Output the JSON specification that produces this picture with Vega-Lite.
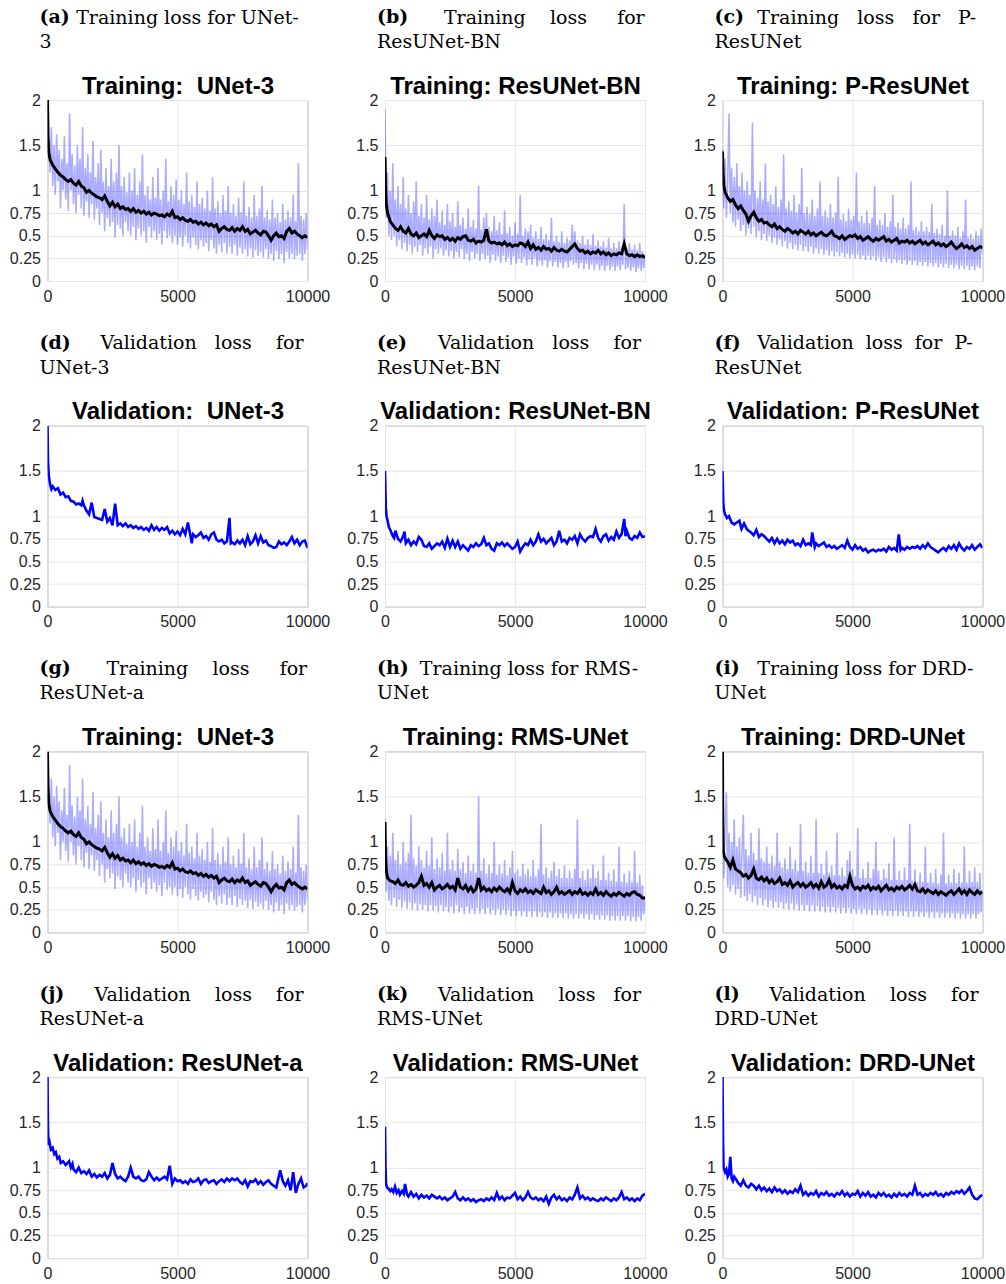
{
  "$schema": "https://vega.github.io/schema/vega-lite/v6.json",
  "padding": {"left": 8.5, "top": 7, "right": 0, "bottom": 0},
  "bounds": "flush",
  "columns": 3,
  "spacing": {"row": 144.7, "column": 77.5},
  "config": {
    "font": "Liberation Sans",
    "view": {"stroke": "#a6a6a6", "strokeWidth": 1},
    "axis": {"domain": false, "ticks": false, "grid": true, "gridColor": "#e6e6e6", "gridWidth": 1, "labelFont": "Liberation Sans", "labelFontSize": 16, "labelColor": "#262626", "labelPadding": 7, "labelOverlap": false},
    "axisX": {"titleY": -258, "titleAngle": 0, "titleAlign": "left", "titleBaseline": "alphabetic", "titleFont": "DejaVu Serif", "titleFontSize": 19, "titleFontWeight": "normal", "titleColor": "#000000"},
    "axisY": {"titleX": 130, "titleY": -7, "titleAngle": 0, "titleAlign": "center", "titleBaseline": "alphabetic", "titleFont": "Liberation Sans", "titleFontSize": 24, "titleFontWeight": "bold", "titleColor": "#000000"},
    "title": {"anchor": "start", "frame": "group", "dx": -8, "offset": -44, "font": "DejaVu Serif", "fontSize": 19, "fontWeight": "bold", "color": "#000000", "subtitleFont": "DejaVu Serif", "subtitleFontSize": 19, "subtitleFontWeight": "normal", "subtitleColor": "#000000", "subtitleLineHeight": 25, "subtitlePadding": 6}
  },
  "datasets": {
    "unet3_train_raw": [{"x":0,"y":2},{"x":50,"y":1.55},{"x":100,"y":1.2},{"x":150,"y":1.7},{"x":200,"y":1.05},{"x":250,"y":1.5},{"x":300,"y":0.95},{"x":350,"y":1.62},{"x":400,"y":1.1},{"x":450,"y":1.45},{"x":500,"y":0.8},{"x":550,"y":1.35},{"x":600,"y":1},{"x":650,"y":1.6},{"x":700,"y":0.9},{"x":750,"y":1.3},{"x":800,"y":0.78},{"x":850,"y":1.85},{"x":900,"y":1},{"x":950,"y":1.4},{"x":1000,"y":0.85},{"x":1050,"y":1.28},{"x":1100,"y":0.75},{"x":1150,"y":1.5},{"x":1200,"y":0.95},{"x":1250,"y":1.35},{"x":1300,"y":0.8},{"x":1350,"y":1.7},{"x":1400,"y":0.72},{"x":1450,"y":1.25},{"x":1500,"y":0.88},{"x":1550,"y":1.4},{"x":1600,"y":0.7},{"x":1650,"y":1.2},{"x":1700,"y":0.85},{"x":1750,"y":1.55},{"x":1800,"y":0.68},{"x":1850,"y":1.15},{"x":1900,"y":0.8},{"x":1950,"y":1.3},{"x":2000,"y":0.62},{"x":2050,"y":1.45},{"x":2100,"y":0.75},{"x":2150,"y":1.1},{"x":2200,"y":0.55},{"x":2250,"y":1.25},{"x":2300,"y":0.7},{"x":2350,"y":1.05},{"x":2400,"y":0.6},{"x":2450,"y":1.35},{"x":2500,"y":0.65},{"x":2550,"y":1.1},{"x":2600,"y":0.48},{"x":2650,"y":1.2},{"x":2700,"y":0.62},{"x":2750,"y":1.5},{"x":2800,"y":0.58},{"x":2850,"y":1.05},{"x":2900,"y":0.5},{"x":2950,"y":1.15},{"x":3000,"y":0.65},{"x":3050,"y":0.98},{"x":3100,"y":0.55},{"x":3150,"y":1.2},{"x":3200,"y":0.5},{"x":3250,"y":1},{"x":3300,"y":0.6},{"x":3350,"y":1.25},{"x":3400,"y":0.45},{"x":3450,"y":0.95},{"x":3500,"y":0.58},{"x":3550,"y":1.1},{"x":3600,"y":0.5},{"x":3650,"y":1.4},{"x":3700,"y":0.55},{"x":3750,"y":0.95},{"x":3800,"y":0.42},{"x":3850,"y":1.05},{"x":3900,"y":0.6},{"x":3950,"y":0.9},{"x":4000,"y":0.48},{"x":4050,"y":1.15},{"x":4100,"y":0.55},{"x":4150,"y":0.92},{"x":4200,"y":0.45},{"x":4250,"y":1.25},{"x":4300,"y":0.52},{"x":4350,"y":0.9},{"x":4400,"y":0.4},{"x":4450,"y":1},{"x":4500,"y":0.55},{"x":4550,"y":1.35},{"x":4600,"y":0.47},{"x":4650,"y":0.88},{"x":4700,"y":0.5},{"x":4750,"y":1.05},{"x":4800,"y":0.42},{"x":4850,"y":0.95},{"x":4900,"y":0.5},{"x":4950,"y":1.12},{"x":5000,"y":0.4},{"x":5050,"y":0.9},{"x":5100,"y":0.48},{"x":5150,"y":1},{"x":5200,"y":0.38},{"x":5250,"y":0.85},{"x":5300,"y":0.5},{"x":5350,"y":1.2},{"x":5400,"y":0.42},{"x":5450,"y":0.88},{"x":5500,"y":0.36},{"x":5550,"y":0.95},{"x":5600,"y":0.48},{"x":5650,"y":0.82},{"x":5700,"y":0.4},{"x":5750,"y":1.1},{"x":5800,"y":0.35},{"x":5850,"y":0.85},{"x":5900,"y":0.45},{"x":5950,"y":0.92},{"x":6000,"y":0.38},{"x":6050,"y":0.8},{"x":6100,"y":0.42},{"x":6150,"y":1},{"x":6200,"y":0.33},{"x":6250,"y":0.78},{"x":6300,"y":0.45},{"x":6350,"y":1.15},{"x":6400,"y":0.36},{"x":6450,"y":0.8},{"x":6500,"y":0.3},{"x":6550,"y":0.88},{"x":6600,"y":0.4},{"x":6650,"y":0.75},{"x":6700,"y":0.32},{"x":6750,"y":0.95},{"x":6800,"y":0.42},{"x":6850,"y":0.78},{"x":6900,"y":0.3},{"x":6950,"y":1.05},{"x":7000,"y":0.38},{"x":7050,"y":0.75},{"x":7100,"y":0.3},{"x":7150,"y":0.85},{"x":7200,"y":0.4},{"x":7250,"y":0.72},{"x":7300,"y":0.28},{"x":7350,"y":0.92},{"x":7400,"y":0.37},{"x":7450,"y":0.76},{"x":7500,"y":0.3},{"x":7550,"y":1.1},{"x":7600,"y":0.35},{"x":7650,"y":0.72},{"x":7700,"y":0.27},{"x":7750,"y":0.82},{"x":7800,"y":0.36},{"x":7850,"y":0.7},{"x":7900,"y":0.26},{"x":7950,"y":0.95},{"x":8000,"y":0.34},{"x":8050,"y":0.72},{"x":8100,"y":0.28},{"x":8150,"y":0.8},{"x":8200,"y":0.32},{"x":8250,"y":1.05},{"x":8300,"y":0.26},{"x":8350,"y":0.7},{"x":8400,"y":0.35},{"x":8450,"y":0.78},{"x":8500,"y":0.25},{"x":8550,"y":0.68},{"x":8600,"y":0.3},{"x":8650,"y":0.9},{"x":8700,"y":0.22},{"x":8750,"y":0.7},{"x":8800,"y":0.33},{"x":8850,"y":0.75},{"x":8900,"y":0.24},{"x":8950,"y":0.65},{"x":9000,"y":0.3},{"x":9050,"y":0.85},{"x":9100,"y":0.2},{"x":9150,"y":0.68},{"x":9200,"y":0.32},{"x":9250,"y":0.78},{"x":9300,"y":0.25},{"x":9350,"y":0.7},{"x":9400,"y":0.3},{"x":9450,"y":0.95},{"x":9500,"y":0.24},{"x":9550,"y":0.66},{"x":9600,"y":0.28},{"x":9650,"y":1.3},{"x":9700,"y":0.3},{"x":9750,"y":0.72},{"x":9800,"y":0.22},{"x":9850,"y":0.68},{"x":9900,"y":0.3},{"x":9950,"y":0.75},{"x":10000,"y":0.35}],
    "unet3_train_avg": [{"x":0,"y":2},{"x":20,"y":1.6},{"x":50,"y":1.42},{"x":100,"y":1.34},{"x":200,"y":1.28},{"x":300,"y":1.24},{"x":400,"y":1.2},{"x":500,"y":1.17},{"x":600,"y":1.15},{"x":700,"y":1.12},{"x":800,"y":1.1},{"x":900,"y":1.12},{"x":1000,"y":1.08},{"x":1100,"y":1.06},{"x":1200,"y":1.1},{"x":1300,"y":1.05},{"x":1400,"y":1.03},{"x":1500,"y":0.98},{"x":1600,"y":1},{"x":1700,"y":0.97},{"x":1800,"y":0.95},{"x":1900,"y":0.93},{"x":2000,"y":0.92},{"x":2100,"y":0.9},{"x":2200,"y":0.94},{"x":2300,"y":0.88},{"x":2400,"y":0.83},{"x":2500,"y":0.87},{"x":2600,"y":0.82},{"x":2700,"y":0.85},{"x":2800,"y":0.8},{"x":2900,"y":0.82},{"x":3000,"y":0.79},{"x":3100,"y":0.8},{"x":3200,"y":0.77},{"x":3300,"y":0.8},{"x":3400,"y":0.76},{"x":3500,"y":0.78},{"x":3600,"y":0.75},{"x":3700,"y":0.77},{"x":3800,"y":0.74},{"x":3900,"y":0.76},{"x":4000,"y":0.73},{"x":4100,"y":0.75},{"x":4200,"y":0.74},{"x":4300,"y":0.72},{"x":4400,"y":0.73},{"x":4500,"y":0.71},{"x":4600,"y":0.74},{"x":4700,"y":0.72},{"x":4800,"y":0.77},{"x":4900,"y":0.7},{"x":5000,"y":0.71},{"x":5100,"y":0.68},{"x":5200,"y":0.7},{"x":5300,"y":0.67},{"x":5400,"y":0.66},{"x":5500,"y":0.68},{"x":5600,"y":0.65},{"x":5700,"y":0.66},{"x":5800,"y":0.63},{"x":5900,"y":0.65},{"x":6000,"y":0.62},{"x":6100,"y":0.64},{"x":6200,"y":0.61},{"x":6300,"y":0.63},{"x":6400,"y":0.6},{"x":6500,"y":0.62},{"x":6600,"y":0.55},{"x":6700,"y":0.58},{"x":6800,"y":0.6},{"x":6900,"y":0.57},{"x":7000,"y":0.56},{"x":7100,"y":0.59},{"x":7200,"y":0.55},{"x":7300,"y":0.58},{"x":7400,"y":0.56},{"x":7500,"y":0.6},{"x":7600,"y":0.55},{"x":7700,"y":0.57},{"x":7800,"y":0.52},{"x":7900,"y":0.54},{"x":8000,"y":0.56},{"x":8100,"y":0.53},{"x":8200,"y":0.51},{"x":8300,"y":0.55},{"x":8400,"y":0.54},{"x":8500,"y":0.5},{"x":8600,"y":0.45},{"x":8700,"y":0.5},{"x":8800,"y":0.53},{"x":8900,"y":0.49},{"x":9000,"y":0.5},{"x":9100,"y":0.47},{"x":9200,"y":0.55},{"x":9300,"y":0.58},{"x":9400,"y":0.53},{"x":9500,"y":0.55},{"x":9600,"y":0.52},{"x":9700,"y":0.5},{"x":9800,"y":0.48},{"x":9900,"y":0.5},{"x":10000,"y":0.48}],
    "resunetbn_train_raw": [{"x":0,"y":1.9},{"x":50,"y":0.7},{"x":100,"y":1.2},{"x":150,"y":0.5},{"x":200,"y":1},{"x":250,"y":0.45},{"x":300,"y":1.3},{"x":350,"y":0.5},{"x":400,"y":0.9},{"x":450,"y":0.38},{"x":500,"y":1.05},{"x":550,"y":0.45},{"x":600,"y":0.85},{"x":650,"y":0.35},{"x":700,"y":1.15},{"x":750,"y":0.42},{"x":800,"y":0.8},{"x":850,"y":0.33},{"x":900,"y":0.95},{"x":950,"y":0.4},{"x":1000,"y":0.75},{"x":1050,"y":0.3},{"x":1100,"y":0.88},{"x":1150,"y":0.38},{"x":1200,"y":1.1},{"x":1250,"y":0.32},{"x":1300,"y":0.72},{"x":1350,"y":0.4},{"x":1400,"y":0.85},{"x":1450,"y":0.28},{"x":1500,"y":0.7},{"x":1550,"y":0.36},{"x":1600,"y":0.95},{"x":1650,"y":0.3},{"x":1700,"y":0.68},{"x":1750,"y":0.38},{"x":1800,"y":0.8},{"x":1850,"y":0.25},{"x":1900,"y":0.72},{"x":1950,"y":0.35},{"x":2000,"y":0.9},{"x":2050,"y":0.3},{"x":2100,"y":0.65},{"x":2150,"y":0.36},{"x":2200,"y":0.78},{"x":2250,"y":0.28},{"x":2300,"y":0.62},{"x":2350,"y":0.34},{"x":2400,"y":0.85},{"x":2450,"y":0.27},{"x":2500,"y":0.66},{"x":2550,"y":0.33},{"x":2600,"y":0.75},{"x":2650,"y":0.25},{"x":2700,"y":0.6},{"x":2750,"y":0.32},{"x":2800,"y":0.88},{"x":2850,"y":0.26},{"x":2900,"y":0.62},{"x":2950,"y":0.35},{"x":3000,"y":0.7},{"x":3050,"y":0.24},{"x":3100,"y":0.58},{"x":3150,"y":0.3},{"x":3200,"y":0.8},{"x":3250,"y":0.22},{"x":3300,"y":0.6},{"x":3350,"y":0.32},{"x":3400,"y":0.68},{"x":3450,"y":0.25},{"x":3500,"y":0.58},{"x":3550,"y":0.3},{"x":3600,"y":1.05},{"x":3650,"y":0.22},{"x":3700,"y":0.57},{"x":3750,"y":0.3},{"x":3800,"y":0.7},{"x":3850,"y":0.24},{"x":3900,"y":0.75},{"x":3950,"y":0.28},{"x":4000,"y":0.6},{"x":4050,"y":0.2},{"x":4100,"y":0.55},{"x":4150,"y":0.29},{"x":4200,"y":0.72},{"x":4250,"y":0.22},{"x":4300,"y":0.56},{"x":4350,"y":0.27},{"x":4400,"y":0.65},{"x":4450,"y":0.2},{"x":4500,"y":0.52},{"x":4550,"y":0.28},{"x":4600,"y":0.78},{"x":4650,"y":0.21},{"x":4700,"y":0.53},{"x":4750,"y":0.26},{"x":4800,"y":0.6},{"x":4850,"y":0.18},{"x":4900,"y":0.5},{"x":4950,"y":0.27},{"x":5000,"y":0.65},{"x":5050,"y":0.19},{"x":5100,"y":0.52},{"x":5150,"y":0.25},{"x":5200,"y":0.95},{"x":5250,"y":0.2},{"x":5300,"y":0.5},{"x":5350,"y":0.26},{"x":5400,"y":0.58},{"x":5450,"y":0.17},{"x":5500,"y":0.55},{"x":5550,"y":0.24},{"x":5600,"y":0.62},{"x":5650,"y":0.18},{"x":5700,"y":0.48},{"x":5750,"y":0.25},{"x":5800,"y":0.55},{"x":5850,"y":0.16},{"x":5900,"y":0.47},{"x":5950,"y":0.22},{"x":6000,"y":0.6},{"x":6050,"y":0.17},{"x":6100,"y":0.46},{"x":6150,"y":0.23},{"x":6200,"y":0.52},{"x":6250,"y":0.15},{"x":6300,"y":0.45},{"x":6350,"y":0.22},{"x":6400,"y":0.7},{"x":6450,"y":0.16},{"x":6500,"y":0.44},{"x":6550,"y":0.21},{"x":6600,"y":0.5},{"x":6650,"y":0.15},{"x":6700,"y":0.43},{"x":6750,"y":0.2},{"x":6800,"y":0.55},{"x":6850,"y":0.14},{"x":6900,"y":0.42},{"x":6950,"y":0.21},{"x":7000,"y":0.48},{"x":7050,"y":0.15},{"x":7100,"y":0.45},{"x":7150,"y":0.22},{"x":7200,"y":0.62},{"x":7250,"y":0.18},{"x":7300,"y":0.55},{"x":7350,"y":0.2},{"x":7400,"y":0.45},{"x":7450,"y":0.14},{"x":7500,"y":0.42},{"x":7550,"y":0.2},{"x":7600,"y":0.5},{"x":7650,"y":0.13},{"x":7700,"y":0.4},{"x":7750,"y":0.19},{"x":7800,"y":0.46},{"x":7850,"y":0.13},{"x":7900,"y":0.4},{"x":7950,"y":0.18},{"x":8000,"y":0.52},{"x":8050,"y":0.12},{"x":8100,"y":0.39},{"x":8150,"y":0.18},{"x":8200,"y":0.45},{"x":8250,"y":0.12},{"x":8300,"y":0.38},{"x":8350,"y":0.17},{"x":8400,"y":0.44},{"x":8450,"y":0.11},{"x":8500,"y":0.37},{"x":8550,"y":0.17},{"x":8600,"y":0.48},{"x":8650,"y":0.12},{"x":8700,"y":0.36},{"x":8750,"y":0.16},{"x":8800,"y":0.42},{"x":8850,"y":0.11},{"x":8900,"y":0.36},{"x":8950,"y":0.16},{"x":9000,"y":0.44},{"x":9050,"y":0.12},{"x":9100,"y":0.38},{"x":9150,"y":0.18},{"x":9200,"y":0.85},{"x":9250,"y":0.13},{"x":9300,"y":0.36},{"x":9350,"y":0.15},{"x":9400,"y":0.42},{"x":9450,"y":0.11},{"x":9500,"y":0.35},{"x":9550,"y":0.15},{"x":9600,"y":0.4},{"x":9650,"y":0.1},{"x":9700,"y":0.34},{"x":9750,"y":0.14},{"x":9800,"y":0.42},{"x":9850,"y":0.11},{"x":9900,"y":0.33},{"x":9950,"y":0.14},{"x":10000,"y":0.3}],
    "resunetbn_train_avg": [{"x":0,"y":1.37},{"x":20,"y":1.05},{"x":50,"y":0.85},{"x":100,"y":0.75},{"x":200,"y":0.66},{"x":300,"y":0.62},{"x":400,"y":0.58},{"x":500,"y":0.56},{"x":600,"y":0.6},{"x":700,"y":0.55},{"x":800,"y":0.53},{"x":900,"y":0.58},{"x":1000,"y":0.52},{"x":1100,"y":0.5},{"x":1200,"y":0.53},{"x":1300,"y":0.48},{"x":1400,"y":0.5},{"x":1500,"y":0.52},{"x":1600,"y":0.49},{"x":1700,"y":0.56},{"x":1800,"y":0.5},{"x":1900,"y":0.47},{"x":2000,"y":0.51},{"x":2100,"y":0.49},{"x":2200,"y":0.5},{"x":2300,"y":0.46},{"x":2400,"y":0.48},{"x":2500,"y":0.45},{"x":2600,"y":0.47},{"x":2700,"y":0.44},{"x":2800,"y":0.48},{"x":2900,"y":0.46},{"x":3000,"y":0.49},{"x":3100,"y":0.5},{"x":3200,"y":0.45},{"x":3300,"y":0.44},{"x":3400,"y":0.46},{"x":3500,"y":0.42},{"x":3600,"y":0.44},{"x":3700,"y":0.43},{"x":3800,"y":0.45},{"x":3900,"y":0.57},{"x":4000,"y":0.44},{"x":4100,"y":0.42},{"x":4200,"y":0.43},{"x":4300,"y":0.41},{"x":4400,"y":0.42},{"x":4500,"y":0.4},{"x":4600,"y":0.43},{"x":4700,"y":0.39},{"x":4800,"y":0.41},{"x":4900,"y":0.38},{"x":5000,"y":0.4},{"x":5100,"y":0.39},{"x":5200,"y":0.42},{"x":5300,"y":0.41},{"x":5400,"y":0.38},{"x":5500,"y":0.43},{"x":5600,"y":0.36},{"x":5700,"y":0.4},{"x":5800,"y":0.35},{"x":5900,"y":0.37},{"x":6000,"y":0.34},{"x":6100,"y":0.38},{"x":6200,"y":0.35},{"x":6300,"y":0.36},{"x":6400,"y":0.33},{"x":6500,"y":0.37},{"x":6600,"y":0.34},{"x":6700,"y":0.33},{"x":6800,"y":0.35},{"x":6900,"y":0.33},{"x":7000,"y":0.32},{"x":7100,"y":0.35},{"x":7200,"y":0.38},{"x":7300,"y":0.41},{"x":7400,"y":0.36},{"x":7500,"y":0.33},{"x":7600,"y":0.34},{"x":7700,"y":0.31},{"x":7800,"y":0.33},{"x":7900,"y":0.3},{"x":8000,"y":0.32},{"x":8100,"y":0.31},{"x":8200,"y":0.34},{"x":8300,"y":0.3},{"x":8400,"y":0.32},{"x":8500,"y":0.29},{"x":8600,"y":0.31},{"x":8700,"y":0.28},{"x":8800,"y":0.3},{"x":8900,"y":0.29},{"x":9000,"y":0.31},{"x":9100,"y":0.3},{"x":9200,"y":0.41},{"x":9300,"y":0.3},{"x":9400,"y":0.28},{"x":9500,"y":0.29},{"x":9600,"y":0.27},{"x":9700,"y":0.29},{"x":9800,"y":0.27},{"x":9900,"y":0.28},{"x":10000,"y":0.26}],
    "presunet_train_raw": [{"x":0,"y":1.45},{"x":50,"y":0.8},{"x":100,"y":1.35},{"x":150,"y":0.7},{"x":200,"y":1.1},{"x":250,"y":1.85},{"x":300,"y":0.75},{"x":350,"y":1.25},{"x":400,"y":0.65},{"x":450,"y":1.15},{"x":500,"y":0.6},{"x":550,"y":1.3},{"x":600,"y":0.68},{"x":650,"y":1.05},{"x":700,"y":0.55},{"x":750,"y":1.2},{"x":800,"y":0.62},{"x":850,"y":1},{"x":900,"y":0.5},{"x":950,"y":1.1},{"x":1000,"y":0.58},{"x":1050,"y":0.95},{"x":1100,"y":0.52},{"x":1150,"y":1.75},{"x":1200,"y":0.6},{"x":1250,"y":1},{"x":1300,"y":0.48},{"x":1350,"y":0.92},{"x":1400,"y":0.55},{"x":1450,"y":1.1},{"x":1500,"y":0.45},{"x":1550,"y":0.9},{"x":1600,"y":0.52},{"x":1650,"y":1.3},{"x":1700,"y":0.44},{"x":1750,"y":0.88},{"x":1800,"y":0.5},{"x":1850,"y":0.95},{"x":1900,"y":0.42},{"x":1950,"y":0.85},{"x":2000,"y":0.48},{"x":2050,"y":1.05},{"x":2100,"y":0.4},{"x":2150,"y":0.82},{"x":2200,"y":0.46},{"x":2250,"y":0.9},{"x":2300,"y":0.38},{"x":2350,"y":1.4},{"x":2400,"y":0.44},{"x":2450,"y":0.8},{"x":2500,"y":0.36},{"x":2550,"y":0.88},{"x":2600,"y":0.42},{"x":2650,"y":0.78},{"x":2700,"y":0.35},{"x":2750,"y":0.95},{"x":2800,"y":0.4},{"x":2850,"y":0.76},{"x":2900,"y":0.34},{"x":2950,"y":0.85},{"x":3000,"y":0.4},{"x":3050,"y":1.25},{"x":3100,"y":0.33},{"x":3150,"y":0.75},{"x":3200,"y":0.38},{"x":3250,"y":0.82},{"x":3300,"y":0.32},{"x":3350,"y":0.74},{"x":3400,"y":0.38},{"x":3450,"y":0.9},{"x":3500,"y":0.3},{"x":3550,"y":0.72},{"x":3600,"y":0.36},{"x":3650,"y":0.8},{"x":3700,"y":0.3},{"x":3750,"y":1.1},{"x":3800,"y":0.35},{"x":3850,"y":0.72},{"x":3900,"y":0.29},{"x":3950,"y":0.78},{"x":4000,"y":0.34},{"x":4050,"y":0.7},{"x":4100,"y":0.28},{"x":4150,"y":0.85},{"x":4200,"y":0.33},{"x":4250,"y":0.7},{"x":4300,"y":0.27},{"x":4350,"y":0.76},{"x":4400,"y":0.32},{"x":4450,"y":1.15},{"x":4500,"y":0.27},{"x":4550,"y":0.68},{"x":4600,"y":0.31},{"x":4650,"y":0.74},{"x":4700,"y":0.26},{"x":4750,"y":0.66},{"x":4800,"y":0.3},{"x":4850,"y":0.8},{"x":4900,"y":0.25},{"x":4950,"y":0.68},{"x":5000,"y":0.3},{"x":5050,"y":0.72},{"x":5100,"y":0.25},{"x":5150,"y":1.2},{"x":5200,"y":0.29},{"x":5250,"y":0.66},{"x":5300,"y":0.24},{"x":5350,"y":0.72},{"x":5400,"y":0.28},{"x":5450,"y":0.64},{"x":5500,"y":0.23},{"x":5550,"y":0.78},{"x":5600,"y":0.28},{"x":5650,"y":0.64},{"x":5700,"y":0.23},{"x":5750,"y":0.7},{"x":5800,"y":0.27},{"x":5850,"y":1.05},{"x":5900,"y":0.22},{"x":5950,"y":0.62},{"x":6000,"y":0.26},{"x":6050,"y":0.68},{"x":6100,"y":0.21},{"x":6150,"y":0.62},{"x":6200,"y":0.26},{"x":6250,"y":0.75},{"x":6300,"y":0.21},{"x":6350,"y":0.6},{"x":6400,"y":0.25},{"x":6450,"y":0.66},{"x":6500,"y":0.2},{"x":6550,"y":0.95},{"x":6600,"y":0.24},{"x":6650,"y":0.6},{"x":6700,"y":0.2},{"x":6750,"y":0.65},{"x":6800,"y":0.23},{"x":6850,"y":0.58},{"x":6900,"y":0.19},{"x":6950,"y":0.7},{"x":7000,"y":0.23},{"x":7050,"y":0.58},{"x":7100,"y":0.18},{"x":7150,"y":0.62},{"x":7200,"y":0.22},{"x":7250,"y":1.1},{"x":7300,"y":0.18},{"x":7350,"y":0.56},{"x":7400,"y":0.22},{"x":7450,"y":0.6},{"x":7500,"y":0.17},{"x":7550,"y":0.55},{"x":7600,"y":0.21},{"x":7650,"y":0.66},{"x":7700,"y":0.17},{"x":7750,"y":0.55},{"x":7800,"y":0.21},{"x":7850,"y":0.6},{"x":7900,"y":0.16},{"x":7950,"y":0.54},{"x":8000,"y":0.2},{"x":8050,"y":0.85},{"x":8100,"y":0.16},{"x":8150,"y":0.53},{"x":8200,"y":0.2},{"x":8250,"y":0.58},{"x":8300,"y":0.15},{"x":8350,"y":0.52},{"x":8400,"y":0.19},{"x":8450,"y":0.62},{"x":8500,"y":0.15},{"x":8550,"y":0.5},{"x":8600,"y":0.19},{"x":8650,"y":1},{"x":8700,"y":0.14},{"x":8750,"y":0.5},{"x":8800,"y":0.18},{"x":8850,"y":0.56},{"x":8900,"y":0.14},{"x":8950,"y":0.5},{"x":9000,"y":0.18},{"x":9050,"y":0.6},{"x":9100,"y":0.13},{"x":9150,"y":0.48},{"x":9200,"y":0.17},{"x":9250,"y":0.55},{"x":9300,"y":0.13},{"x":9350,"y":0.9},{"x":9400,"y":0.17},{"x":9450,"y":0.48},{"x":9500,"y":0.12},{"x":9550,"y":0.52},{"x":9600,"y":0.16},{"x":9650,"y":0.47},{"x":9700,"y":0.12},{"x":9750,"y":0.55},{"x":9800,"y":0.16},{"x":9850,"y":0.5},{"x":9900,"y":0.14},{"x":9950,"y":0.58},{"x":10000,"y":0.3}],
    "presunet_train_avg": [{"x":0,"y":1.43},{"x":20,"y":1.2},{"x":50,"y":1.05},{"x":100,"y":0.98},{"x":200,"y":0.92},{"x":300,"y":0.88},{"x":400,"y":0.9},{"x":500,"y":0.84},{"x":600,"y":0.8},{"x":700,"y":0.83},{"x":800,"y":0.78},{"x":900,"y":0.74},{"x":1000,"y":0.66},{"x":1100,"y":0.72},{"x":1200,"y":0.76},{"x":1300,"y":0.7},{"x":1400,"y":0.66},{"x":1500,"y":0.68},{"x":1600,"y":0.64},{"x":1700,"y":0.65},{"x":1800,"y":0.62},{"x":1900,"y":0.6},{"x":2000,"y":0.63},{"x":2100,"y":0.58},{"x":2200,"y":0.6},{"x":2300,"y":0.57},{"x":2400,"y":0.55},{"x":2500,"y":0.58},{"x":2600,"y":0.56},{"x":2700,"y":0.53},{"x":2800,"y":0.55},{"x":2900,"y":0.52},{"x":3000,"y":0.56},{"x":3100,"y":0.54},{"x":3200,"y":0.52},{"x":3300,"y":0.55},{"x":3400,"y":0.51},{"x":3500,"y":0.53},{"x":3600,"y":0.5},{"x":3700,"y":0.52},{"x":3800,"y":0.54},{"x":3900,"y":0.51},{"x":4000,"y":0.5},{"x":4100,"y":0.52},{"x":4200,"y":0.55},{"x":4300,"y":0.5},{"x":4400,"y":0.49},{"x":4500,"y":0.47},{"x":4600,"y":0.5},{"x":4700,"y":0.46},{"x":4800,"y":0.48},{"x":4900,"y":0.5},{"x":5000,"y":0.49},{"x":5100,"y":0.51},{"x":5200,"y":0.47},{"x":5300,"y":0.49},{"x":5400,"y":0.45},{"x":5500,"y":0.47},{"x":5600,"y":0.49},{"x":5700,"y":0.46},{"x":5800,"y":0.44},{"x":5900,"y":0.47},{"x":6000,"y":0.45},{"x":6100,"y":0.47},{"x":6200,"y":0.49},{"x":6300,"y":0.44},{"x":6400,"y":0.46},{"x":6500,"y":0.43},{"x":6600,"y":0.45},{"x":6700,"y":0.47},{"x":6800,"y":0.42},{"x":6900,"y":0.44},{"x":7000,"y":0.43},{"x":7100,"y":0.45},{"x":7200,"y":0.42},{"x":7300,"y":0.44},{"x":7400,"y":0.41},{"x":7500,"y":0.43},{"x":7600,"y":0.45},{"x":7700,"y":0.41},{"x":7800,"y":0.43},{"x":7900,"y":0.4},{"x":8000,"y":0.42},{"x":8100,"y":0.44},{"x":8200,"y":0.4},{"x":8300,"y":0.42},{"x":8400,"y":0.39},{"x":8500,"y":0.41},{"x":8600,"y":0.38},{"x":8700,"y":0.4},{"x":8800,"y":0.43},{"x":8900,"y":0.39},{"x":9000,"y":0.36},{"x":9100,"y":0.38},{"x":9200,"y":0.41},{"x":9300,"y":0.37},{"x":9400,"y":0.39},{"x":9500,"y":0.36},{"x":9600,"y":0.38},{"x":9700,"y":0.34},{"x":9800,"y":0.36},{"x":9900,"y":0.38},{"x":10000,"y":0.37}],
    "rmsunet_train_raw": [{"x":0,"y":1.25},{"x":50,"y":0.45},{"x":100,"y":0.95},{"x":150,"y":0.35},{"x":200,"y":0.85},{"x":250,"y":0.3},{"x":300,"y":1.1},{"x":350,"y":0.38},{"x":400,"y":0.8},{"x":450,"y":0.28},{"x":500,"y":0.9},{"x":550,"y":0.36},{"x":600,"y":0.75},{"x":650,"y":0.27},{"x":700,"y":1},{"x":750,"y":0.34},{"x":800,"y":0.78},{"x":850,"y":0.26},{"x":900,"y":0.88},{"x":950,"y":0.33},{"x":1000,"y":1.3},{"x":1050,"y":0.25},{"x":1100,"y":0.82},{"x":1150,"y":0.32},{"x":1200,"y":0.74},{"x":1250,"y":0.24},{"x":1300,"y":0.95},{"x":1350,"y":0.31},{"x":1400,"y":0.8},{"x":1450,"y":0.25},{"x":1500,"y":0.72},{"x":1550,"y":0.3},{"x":1600,"y":0.9},{"x":1650,"y":0.23},{"x":1700,"y":0.74},{"x":1750,"y":0.3},{"x":1800,"y":1.05},{"x":1850,"y":0.24},{"x":1900,"y":0.7},{"x":1950,"y":0.29},{"x":2000,"y":0.82},{"x":2050,"y":0.22},{"x":2100,"y":0.72},{"x":2150,"y":0.3},{"x":2200,"y":0.88},{"x":2250,"y":0.23},{"x":2300,"y":0.68},{"x":2350,"y":0.28},{"x":2400,"y":1.1},{"x":2450,"y":0.22},{"x":2500,"y":0.7},{"x":2550,"y":0.28},{"x":2600,"y":0.8},{"x":2650,"y":0.21},{"x":2700,"y":0.68},{"x":2750,"y":0.3},{"x":2800,"y":0.92},{"x":2850,"y":0.22},{"x":2900,"y":0.7},{"x":2950,"y":0.27},{"x":3000,"y":0.78},{"x":3050,"y":0.2},{"x":3100,"y":0.66},{"x":3150,"y":0.28},{"x":3200,"y":0.85},{"x":3250,"y":0.21},{"x":3300,"y":0.68},{"x":3350,"y":0.26},{"x":3400,"y":0.76},{"x":3450,"y":0.2},{"x":3500,"y":0.66},{"x":3550,"y":0.27},{"x":3600,"y":1.5},{"x":3650,"y":0.21},{"x":3700,"y":0.68},{"x":3750,"y":0.26},{"x":3800,"y":0.82},{"x":3850,"y":0.2},{"x":3900,"y":0.65},{"x":3950,"y":0.27},{"x":4000,"y":0.75},{"x":4050,"y":0.2},{"x":4100,"y":0.66},{"x":4150,"y":0.25},{"x":4200,"y":1},{"x":4250,"y":0.19},{"x":4300,"y":0.64},{"x":4350,"y":0.26},{"x":4400,"y":0.75},{"x":4450,"y":0.19},{"x":4500,"y":0.65},{"x":4550,"y":0.25},{"x":4600,"y":0.8},{"x":4650,"y":0.19},{"x":4700,"y":0.63},{"x":4750,"y":0.25},{"x":4800,"y":0.72},{"x":4850,"y":0.18},{"x":4900,"y":0.9},{"x":4950,"y":0.24},{"x":5000,"y":0.66},{"x":5050,"y":0.18},{"x":5100,"y":0.7},{"x":5150,"y":0.24},{"x":5200,"y":0.62},{"x":5250,"y":0.18},{"x":5300,"y":0.76},{"x":5350,"y":0.23},{"x":5400,"y":0.64},{"x":5450,"y":0.17},{"x":5500,"y":0.7},{"x":5550,"y":0.23},{"x":5600,"y":0.62},{"x":5650,"y":0.17},{"x":5700,"y":0.8},{"x":5750,"y":0.23},{"x":5800,"y":0.62},{"x":5850,"y":0.17},{"x":5900,"y":0.7},{"x":5950,"y":0.22},{"x":6000,"y":1.2},{"x":6050,"y":0.17},{"x":6100,"y":0.64},{"x":6150,"y":0.22},{"x":6200,"y":0.72},{"x":6250,"y":0.16},{"x":6300,"y":0.6},{"x":6350,"y":0.22},{"x":6400,"y":0.68},{"x":6450,"y":0.16},{"x":6500,"y":0.78},{"x":6550,"y":0.21},{"x":6600,"y":0.62},{"x":6650,"y":0.16},{"x":6700,"y":0.7},{"x":6750,"y":0.21},{"x":6800,"y":0.6},{"x":6850,"y":0.16},{"x":6900,"y":0.74},{"x":6950,"y":0.21},{"x":7000,"y":0.6},{"x":7050,"y":0.15},{"x":7100,"y":0.68},{"x":7150,"y":0.2},{"x":7200,"y":0.6},{"x":7250,"y":0.15},{"x":7300,"y":0.7},{"x":7350,"y":0.2},{"x":7400,"y":1.25},{"x":7450,"y":0.15},{"x":7500,"y":0.6},{"x":7550,"y":0.2},{"x":7600,"y":0.68},{"x":7650,"y":0.15},{"x":7700,"y":0.58},{"x":7750,"y":0.2},{"x":7800,"y":0.7},{"x":7850,"y":0.14},{"x":7900,"y":0.6},{"x":7950,"y":0.2},{"x":8000,"y":0.75},{"x":8050,"y":0.14},{"x":8100,"y":0.6},{"x":8150,"y":0.19},{"x":8200,"y":0.68},{"x":8250,"y":0.14},{"x":8300,"y":0.58},{"x":8350,"y":0.19},{"x":8400,"y":0.85},{"x":8450,"y":0.14},{"x":8500,"y":0.58},{"x":8550,"y":0.19},{"x":8600,"y":0.66},{"x":8650,"y":0.13},{"x":8700,"y":0.57},{"x":8750,"y":0.18},{"x":8800,"y":0.7},{"x":8850,"y":0.13},{"x":8900,"y":0.56},{"x":8950,"y":0.18},{"x":9000,"y":0.95},{"x":9050,"y":0.13},{"x":9100,"y":0.56},{"x":9150,"y":0.18},{"x":9200,"y":0.65},{"x":9250,"y":0.13},{"x":9300,"y":0.55},{"x":9350,"y":0.18},{"x":9400,"y":0.68},{"x":9450,"y":0.12},{"x":9500,"y":0.56},{"x":9550,"y":0.17},{"x":9600,"y":0.9},{"x":9650,"y":0.12},{"x":9700,"y":0.55},{"x":9750,"y":0.17},{"x":9800,"y":0.64},{"x":9850,"y":0.13},{"x":9900,"y":0.52},{"x":9950,"y":0.2},{"x":10000,"y":0.4}],
    "rmsunet_train_avg": [{"x":0,"y":1.22},{"x":20,"y":0.85},{"x":50,"y":0.68},{"x":100,"y":0.6},{"x":200,"y":0.57},{"x":300,"y":0.56},{"x":400,"y":0.54},{"x":500,"y":0.58},{"x":600,"y":0.53},{"x":700,"y":0.52},{"x":800,"y":0.55},{"x":900,"y":0.51},{"x":1000,"y":0.53},{"x":1100,"y":0.5},{"x":1200,"y":0.52},{"x":1300,"y":0.55},{"x":1400,"y":0.62},{"x":1500,"y":0.52},{"x":1600,"y":0.54},{"x":1700,"y":0.5},{"x":1800,"y":0.55},{"x":1900,"y":0.47},{"x":2000,"y":0.5},{"x":2100,"y":0.52},{"x":2200,"y":0.48},{"x":2300,"y":0.5},{"x":2400,"y":0.53},{"x":2500,"y":0.49},{"x":2600,"y":0.51},{"x":2700,"y":0.47},{"x":2800,"y":0.6},{"x":2900,"y":0.5},{"x":3000,"y":0.48},{"x":3100,"y":0.52},{"x":3200,"y":0.46},{"x":3300,"y":0.5},{"x":3400,"y":0.45},{"x":3500,"y":0.48},{"x":3600,"y":0.6},{"x":3700,"y":0.47},{"x":3800,"y":0.5},{"x":3900,"y":0.46},{"x":4000,"y":0.48},{"x":4100,"y":0.45},{"x":4200,"y":0.49},{"x":4300,"y":0.46},{"x":4400,"y":0.5},{"x":4500,"y":0.47},{"x":4600,"y":0.45},{"x":4700,"y":0.48},{"x":4800,"y":0.44},{"x":4900,"y":0.55},{"x":5000,"y":0.46},{"x":5100,"y":0.43},{"x":5200,"y":0.47},{"x":5300,"y":0.45},{"x":5400,"y":0.48},{"x":5500,"y":0.44},{"x":5600,"y":0.46},{"x":5700,"y":0.43},{"x":5800,"y":0.47},{"x":5900,"y":0.45},{"x":6000,"y":0.43},{"x":6100,"y":0.5},{"x":6200,"y":0.44},{"x":6300,"y":0.46},{"x":6400,"y":0.42},{"x":6500,"y":0.45},{"x":6600,"y":0.5},{"x":6700,"y":0.43},{"x":6800,"y":0.45},{"x":6900,"y":0.42},{"x":7000,"y":0.44},{"x":7100,"y":0.46},{"x":7200,"y":0.42},{"x":7300,"y":0.45},{"x":7400,"y":0.43},{"x":7500,"y":0.47},{"x":7600,"y":0.42},{"x":7700,"y":0.44},{"x":7800,"y":0.41},{"x":7900,"y":0.44},{"x":8000,"y":0.42},{"x":8100,"y":0.48},{"x":8200,"y":0.42},{"x":8300,"y":0.44},{"x":8400,"y":0.41},{"x":8500,"y":0.45},{"x":8600,"y":0.42},{"x":8700,"y":0.4},{"x":8800,"y":0.43},{"x":8900,"y":0.41},{"x":9000,"y":0.44},{"x":9100,"y":0.42},{"x":9200,"y":0.4},{"x":9300,"y":0.43},{"x":9400,"y":0.41},{"x":9500,"y":0.44},{"x":9600,"y":0.45},{"x":9700,"y":0.42},{"x":9800,"y":0.41},{"x":9900,"y":0.38},{"x":10000,"y":0.38}],
    "drdunet_train_raw": [{"x":0,"y":2},{"x":50,"y":0.6},{"x":100,"y":1.2},{"x":150,"y":1.55},{"x":200,"y":0.5},{"x":250,"y":1.1},{"x":300,"y":0.45},{"x":350,"y":1},{"x":400,"y":0.52},{"x":450,"y":1.25},{"x":500,"y":0.42},{"x":550,"y":0.95},{"x":600,"y":0.48},{"x":650,"y":1.05},{"x":700,"y":0.38},{"x":750,"y":0.9},{"x":800,"y":1.3},{"x":850,"y":0.4},{"x":900,"y":0.92},{"x":950,"y":0.35},{"x":1000,"y":0.85},{"x":1050,"y":0.42},{"x":1100,"y":1.1},{"x":1150,"y":0.33},{"x":1200,"y":0.88},{"x":1250,"y":0.4},{"x":1300,"y":0.8},{"x":1350,"y":0.3},{"x":1400,"y":1.15},{"x":1450,"y":0.38},{"x":1500,"y":0.82},{"x":1550,"y":0.3},{"x":1600,"y":0.78},{"x":1650,"y":0.36},{"x":1700,"y":0.95},{"x":1750,"y":0.28},{"x":1800,"y":0.76},{"x":1850,"y":0.35},{"x":1900,"y":0.85},{"x":1950,"y":0.27},{"x":2000,"y":0.74},{"x":2050,"y":0.34},{"x":2100,"y":1.1},{"x":2150,"y":0.27},{"x":2200,"y":0.78},{"x":2250,"y":0.33},{"x":2300,"y":0.72},{"x":2350,"y":0.26},{"x":2400,"y":0.82},{"x":2450,"y":0.32},{"x":2500,"y":0.7},{"x":2550,"y":0.25},{"x":2600,"y":0.95},{"x":2650,"y":0.32},{"x":2700,"y":0.7},{"x":2750,"y":0.25},{"x":2800,"y":0.8},{"x":2850,"y":0.31},{"x":2900,"y":0.68},{"x":2950,"y":0.24},{"x":3000,"y":1.2},{"x":3050,"y":0.3},{"x":3100,"y":0.68},{"x":3150,"y":0.24},{"x":3200,"y":0.78},{"x":3250,"y":0.3},{"x":3300,"y":0.66},{"x":3350,"y":0.23},{"x":3400,"y":0.85},{"x":3450,"y":0.3},{"x":3500,"y":0.66},{"x":3550,"y":0.23},{"x":3600,"y":1.25},{"x":3650,"y":0.29},{"x":3700,"y":0.66},{"x":3750,"y":0.23},{"x":3800,"y":0.76},{"x":3850,"y":0.28},{"x":3900,"y":0.64},{"x":3950,"y":0.22},{"x":4000,"y":0.9},{"x":4050,"y":0.28},{"x":4100,"y":0.66},{"x":4150,"y":0.22},{"x":4200,"y":0.74},{"x":4250,"y":0.28},{"x":4300,"y":0.63},{"x":4350,"y":0.22},{"x":4400,"y":1.1},{"x":4450,"y":0.27},{"x":4500,"y":0.63},{"x":4550,"y":0.21},{"x":4600,"y":0.72},{"x":4650,"y":0.27},{"x":4700,"y":0.62},{"x":4750,"y":0.21},{"x":4800,"y":0.8},{"x":4850,"y":0.27},{"x":4900,"y":0.9},{"x":4950,"y":0.21},{"x":5000,"y":0.7},{"x":5050,"y":0.26},{"x":5100,"y":0.62},{"x":5150,"y":0.2},{"x":5200,"y":1.15},{"x":5250,"y":0.26},{"x":5300,"y":0.6},{"x":5350,"y":0.2},{"x":5400,"y":0.7},{"x":5450,"y":0.26},{"x":5500,"y":0.6},{"x":5550,"y":0.2},{"x":5600,"y":0.78},{"x":5650,"y":0.25},{"x":5700,"y":0.6},{"x":5750,"y":0.19},{"x":5800,"y":0.7},{"x":5850,"y":0.25},{"x":5900,"y":1},{"x":5950,"y":0.19},{"x":6000,"y":0.68},{"x":6050,"y":0.25},{"x":6100,"y":0.58},{"x":6150,"y":0.19},{"x":6200,"y":0.7},{"x":6250,"y":0.24},{"x":6300,"y":0.6},{"x":6350,"y":0.18},{"x":6400,"y":0.76},{"x":6450,"y":0.24},{"x":6500,"y":0.58},{"x":6550,"y":0.18},{"x":6600,"y":1.05},{"x":6650,"y":0.24},{"x":6700,"y":0.58},{"x":6750,"y":0.18},{"x":6800,"y":0.68},{"x":6850,"y":0.23},{"x":6900,"y":0.58},{"x":6950,"y":0.18},{"x":7000,"y":0.72},{"x":7050,"y":0.23},{"x":7100,"y":0.58},{"x":7150,"y":0.17},{"x":7200,"y":1.2},{"x":7250,"y":0.23},{"x":7300,"y":0.57},{"x":7350,"y":0.17},{"x":7400,"y":0.7},{"x":7450,"y":0.23},{"x":7500,"y":0.56},{"x":7550,"y":0.17},{"x":7600,"y":0.66},{"x":7650,"y":0.22},{"x":7700,"y":0.56},{"x":7750,"y":0.17},{"x":7800,"y":0.95},{"x":7850,"y":0.22},{"x":7900,"y":0.55},{"x":7950,"y":0.16},{"x":8000,"y":0.66},{"x":8050,"y":0.22},{"x":8100,"y":0.55},{"x":8150,"y":0.16},{"x":8200,"y":0.7},{"x":8250,"y":0.22},{"x":8300,"y":0.54},{"x":8350,"y":0.16},{"x":8400,"y":0.64},{"x":8450,"y":0.21},{"x":8500,"y":1.1},{"x":8550,"y":0.16},{"x":8600,"y":0.54},{"x":8650,"y":0.21},{"x":8700,"y":0.64},{"x":8750,"y":0.16},{"x":8800,"y":0.55},{"x":8850,"y":0.21},{"x":8900,"y":0.7},{"x":8950,"y":0.15},{"x":9000,"y":0.55},{"x":9050,"y":0.21},{"x":9100,"y":0.66},{"x":9150,"y":0.15},{"x":9200,"y":0.55},{"x":9250,"y":0.2},{"x":9300,"y":0.95},{"x":9350,"y":0.15},{"x":9400,"y":0.55},{"x":9450,"y":0.2},{"x":9500,"y":0.68},{"x":9550,"y":0.15},{"x":9600,"y":0.56},{"x":9650,"y":0.2},{"x":9700,"y":0.72},{"x":9750,"y":0.15},{"x":9800,"y":0.56},{"x":9850,"y":0.2},{"x":9900,"y":0.66},{"x":9950,"y":0.22},{"x":10000,"y":0.45}],
    "drdunet_train_avg": [{"x":0,"y":2},{"x":10,"y":1.2},{"x":30,"y":0.9},{"x":60,"y":0.85},{"x":100,"y":0.82},{"x":200,"y":0.78},{"x":300,"y":0.72},{"x":400,"y":0.8},{"x":500,"y":0.7},{"x":600,"y":0.68},{"x":700,"y":0.66},{"x":800,"y":0.62},{"x":900,"y":0.64},{"x":1000,"y":0.6},{"x":1100,"y":0.63},{"x":1200,"y":0.7},{"x":1300,"y":0.6},{"x":1400,"y":0.58},{"x":1500,"y":0.61},{"x":1600,"y":0.57},{"x":1700,"y":0.6},{"x":1800,"y":0.55},{"x":1900,"y":0.58},{"x":2000,"y":0.54},{"x":2100,"y":0.56},{"x":2200,"y":0.6},{"x":2300,"y":0.53},{"x":2400,"y":0.55},{"x":2500,"y":0.52},{"x":2600,"y":0.57},{"x":2700,"y":0.5},{"x":2800,"y":0.53},{"x":2900,"y":0.55},{"x":3000,"y":0.51},{"x":3100,"y":0.54},{"x":3200,"y":0.5},{"x":3300,"y":0.52},{"x":3400,"y":0.55},{"x":3500,"y":0.5},{"x":3600,"y":0.53},{"x":3700,"y":0.49},{"x":3800,"y":0.56},{"x":3900,"y":0.5},{"x":4000,"y":0.52},{"x":4100,"y":0.58},{"x":4200,"y":0.5},{"x":4300,"y":0.53},{"x":4400,"y":0.49},{"x":4500,"y":0.51},{"x":4600,"y":0.48},{"x":4700,"y":0.52},{"x":4800,"y":0.5},{"x":4900,"y":0.62},{"x":5000,"y":0.52},{"x":5100,"y":0.48},{"x":5200,"y":0.5},{"x":5300,"y":0.47},{"x":5400,"y":0.51},{"x":5500,"y":0.49},{"x":5600,"y":0.52},{"x":5700,"y":0.47},{"x":5800,"y":0.5},{"x":5900,"y":0.48},{"x":6000,"y":0.51},{"x":6100,"y":0.46},{"x":6200,"y":0.49},{"x":6300,"y":0.52},{"x":6400,"y":0.47},{"x":6500,"y":0.49},{"x":6600,"y":0.46},{"x":6700,"y":0.5},{"x":6800,"y":0.48},{"x":6900,"y":0.51},{"x":7000,"y":0.47},{"x":7100,"y":0.49},{"x":7200,"y":0.52},{"x":7300,"y":0.48},{"x":7400,"y":0.53},{"x":7500,"y":0.46},{"x":7600,"y":0.45},{"x":7700,"y":0.48},{"x":7800,"y":0.44},{"x":7900,"y":0.47},{"x":8000,"y":0.45},{"x":8100,"y":0.43},{"x":8200,"y":0.46},{"x":8300,"y":0.42},{"x":8400,"y":0.45},{"x":8500,"y":0.43},{"x":8600,"y":0.41},{"x":8700,"y":0.44},{"x":8800,"y":0.46},{"x":8900,"y":0.42},{"x":9000,"y":0.45},{"x":9100,"y":0.48},{"x":9200,"y":0.43},{"x":9300,"y":0.46},{"x":9400,"y":0.42},{"x":9500,"y":0.47},{"x":9600,"y":0.44},{"x":9700,"y":0.42},{"x":9800,"y":0.46},{"x":9900,"y":0.43},{"x":10000,"y":0.45}],
    "unet3_val": [{"x":0,"y":2},{"x":20,"y":1.6},{"x":50,"y":1.45},{"x":100,"y":1.35},{"x":150,"y":1.3},{"x":200,"y":1.33},{"x":300,"y":1.29},{"x":400,"y":1.31},{"x":500,"y":1.24},{"x":600,"y":1.26},{"x":700,"y":1.21},{"x":800,"y":1.22},{"x":900,"y":1.17},{"x":1000,"y":1.16},{"x":1100,"y":1.13},{"x":1200,"y":1.14},{"x":1300,"y":1.12},{"x":1350,"y":1.17},{"x":1400,"y":1.12},{"x":1500,"y":1.06},{"x":1600,"y":1.02},{"x":1700,"y":1.15},{"x":1800,"y":0.99},{"x":1900,"y":0.98},{"x":2000,"y":0.97},{"x":2100,"y":0.96},{"x":2200,"y":1.08},{"x":2300,"y":0.94},{"x":2400,"y":0.98},{"x":2500,"y":0.9},{"x":2600,"y":1.14},{"x":2700,"y":0.9},{"x":2800,"y":0.92},{"x":2900,"y":0.89},{"x":3000,"y":0.92},{"x":3100,"y":0.88},{"x":3200,"y":0.9},{"x":3300,"y":0.87},{"x":3400,"y":0.89},{"x":3500,"y":0.86},{"x":3600,"y":0.88},{"x":3700,"y":0.85},{"x":3800,"y":0.87},{"x":3900,"y":0.84},{"x":4000,"y":0.9},{"x":4100,"y":0.85},{"x":4200,"y":0.88},{"x":4300,"y":0.84},{"x":4400,"y":0.87},{"x":4500,"y":0.85},{"x":4600,"y":0.88},{"x":4700,"y":0.81},{"x":4800,"y":0.84},{"x":4900,"y":0.8},{"x":5000,"y":0.83},{"x":5100,"y":0.79},{"x":5200,"y":0.86},{"x":5300,"y":0.8},{"x":5400,"y":0.93},{"x":5500,"y":0.78},{"x":5550,"y":0.7},{"x":5600,"y":0.8},{"x":5700,"y":0.77},{"x":5800,"y":0.79},{"x":5900,"y":0.82},{"x":6000,"y":0.76},{"x":6100,"y":0.78},{"x":6200,"y":0.74},{"x":6300,"y":0.8},{"x":6400,"y":0.82},{"x":6500,"y":0.74},{"x":6600,"y":0.72},{"x":6700,"y":0.74},{"x":6800,"y":0.7},{"x":6900,"y":0.72},{"x":7000,"y":0.98},{"x":7050,"y":0.7},{"x":7100,"y":0.71},{"x":7200,"y":0.69},{"x":7300,"y":0.73},{"x":7400,"y":0.7},{"x":7500,"y":0.74},{"x":7600,"y":0.68},{"x":7700,"y":0.78},{"x":7800,"y":0.69},{"x":7900,"y":0.72},{"x":8000,"y":0.79},{"x":8100,"y":0.7},{"x":8200,"y":0.78},{"x":8300,"y":0.71},{"x":8400,"y":0.73},{"x":8500,"y":0.68},{"x":8600,"y":0.67},{"x":8700,"y":0.65},{"x":8800,"y":0.66},{"x":8900,"y":0.72},{"x":9000,"y":0.69},{"x":9100,"y":0.71},{"x":9200,"y":0.68},{"x":9300,"y":0.72},{"x":9400,"y":0.77},{"x":9500,"y":0.7},{"x":9600,"y":0.74},{"x":9700,"y":0.68},{"x":9800,"y":0.72},{"x":9900,"y":0.73},{"x":10000,"y":0.65}],
    "resunetbn_val": [{"x":0,"y":1.5},{"x":30,"y":1.1},{"x":60,"y":1},{"x":100,"y":0.95},{"x":150,"y":0.88},{"x":200,"y":0.85},{"x":300,"y":0.78},{"x":350,"y":0.76},{"x":400,"y":0.84},{"x":500,"y":0.75},{"x":600,"y":0.72},{"x":700,"y":0.78},{"x":750,"y":0.83},{"x":800,"y":0.7},{"x":900,"y":0.74},{"x":1000,"y":0.68},{"x":1100,"y":0.72},{"x":1200,"y":0.69},{"x":1300,"y":0.77},{"x":1400,"y":0.74},{"x":1500,"y":0.67},{"x":1600,"y":0.66},{"x":1700,"y":0.7},{"x":1800,"y":0.64},{"x":1900,"y":0.67},{"x":2000,"y":0.7},{"x":2100,"y":0.68},{"x":2200,"y":0.72},{"x":2300,"y":0.65},{"x":2400,"y":0.75},{"x":2500,"y":0.66},{"x":2600,"y":0.73},{"x":2700,"y":0.66},{"x":2800,"y":0.72},{"x":2900,"y":0.64},{"x":3000,"y":0.68},{"x":3100,"y":0.65},{"x":3200,"y":0.62},{"x":3300,"y":0.68},{"x":3400,"y":0.66},{"x":3500,"y":0.7},{"x":3600,"y":0.67},{"x":3700,"y":0.69},{"x":3800,"y":0.76},{"x":3900,"y":0.68},{"x":4000,"y":0.7},{"x":4100,"y":0.64},{"x":4200,"y":0.62},{"x":4300,"y":0.7},{"x":4400,"y":0.68},{"x":4500,"y":0.71},{"x":4600,"y":0.67},{"x":4700,"y":0.7},{"x":4800,"y":0.67},{"x":4900,"y":0.64},{"x":5000,"y":0.66},{"x":5100,"y":0.72},{"x":5200,"y":0.61},{"x":5300,"y":0.66},{"x":5400,"y":0.7},{"x":5500,"y":0.68},{"x":5600,"y":0.74},{"x":5700,"y":0.68},{"x":5800,"y":0.72},{"x":5900,"y":0.8},{"x":6000,"y":0.72},{"x":6100,"y":0.75},{"x":6200,"y":0.7},{"x":6300,"y":0.73},{"x":6400,"y":0.76},{"x":6500,"y":0.68},{"x":6600,"y":0.72},{"x":6700,"y":0.84},{"x":6800,"y":0.72},{"x":6900,"y":0.74},{"x":7000,"y":0.7},{"x":7100,"y":0.76},{"x":7200,"y":0.74},{"x":7300,"y":0.78},{"x":7400,"y":0.7},{"x":7500,"y":0.8},{"x":7600,"y":0.75},{"x":7700,"y":0.72},{"x":7800,"y":0.76},{"x":7900,"y":0.78},{"x":8000,"y":0.77},{"x":8100,"y":0.86},{"x":8200,"y":0.76},{"x":8300,"y":0.72},{"x":8400,"y":0.78},{"x":8500,"y":0.8},{"x":8600,"y":0.73},{"x":8700,"y":0.77},{"x":8800,"y":0.74},{"x":8900,"y":0.83},{"x":9000,"y":0.76},{"x":9100,"y":0.8},{"x":9200,"y":0.97},{"x":9250,"y":0.78},{"x":9300,"y":0.84},{"x":9400,"y":0.76},{"x":9500,"y":0.74},{"x":9600,"y":0.78},{"x":9700,"y":0.76},{"x":9800,"y":0.82},{"x":9900,"y":0.77},{"x":10000,"y":0.78}],
    "presunet_val": [{"x":0,"y":1.5},{"x":30,"y":1.15},{"x":60,"y":1.06},{"x":100,"y":1.02},{"x":170,"y":0.98},{"x":250,"y":1},{"x":350,"y":0.93},{"x":450,"y":0.91},{"x":550,"y":0.93},{"x":650,"y":0.95},{"x":730,"y":0.86},{"x":830,"y":0.92},{"x":930,"y":0.86},{"x":1000,"y":0.84},{"x":1100,"y":0.82},{"x":1200,"y":0.79},{"x":1300,"y":0.85},{"x":1400,"y":0.77},{"x":1500,"y":0.8},{"x":1600,"y":0.78},{"x":1700,"y":0.75},{"x":1800,"y":0.72},{"x":1900,"y":0.76},{"x":2000,"y":0.7},{"x":2100,"y":0.75},{"x":2200,"y":0.7},{"x":2300,"y":0.73},{"x":2400,"y":0.69},{"x":2500,"y":0.74},{"x":2600,"y":0.71},{"x":2700,"y":0.73},{"x":2800,"y":0.68},{"x":2900,"y":0.7},{"x":3000,"y":0.67},{"x":3100,"y":0.74},{"x":3200,"y":0.68},{"x":3300,"y":0.7},{"x":3400,"y":0.68},{"x":3450,"y":0.82},{"x":3550,"y":0.66},{"x":3600,"y":0.7},{"x":3700,"y":0.67},{"x":3800,"y":0.69},{"x":3900,"y":0.71},{"x":4000,"y":0.66},{"x":4100,"y":0.68},{"x":4200,"y":0.65},{"x":4300,"y":0.67},{"x":4400,"y":0.64},{"x":4500,"y":0.66},{"x":4600,"y":0.68},{"x":4700,"y":0.65},{"x":4800,"y":0.73},{"x":4900,"y":0.66},{"x":5000,"y":0.63},{"x":5100,"y":0.68},{"x":5200,"y":0.64},{"x":5300,"y":0.66},{"x":5400,"y":0.62},{"x":5500,"y":0.64},{"x":5600,"y":0.6},{"x":5700,"y":0.62},{"x":5800,"y":0.63},{"x":5900,"y":0.61},{"x":6000,"y":0.63},{"x":6100,"y":0.62},{"x":6200,"y":0.64},{"x":6300,"y":0.61},{"x":6400,"y":0.66},{"x":6500,"y":0.63},{"x":6600,"y":0.65},{"x":6700,"y":0.62},{"x":6780,"y":0.8},{"x":6850,"y":0.63},{"x":6900,"y":0.65},{"x":7000,"y":0.63},{"x":7100,"y":0.66},{"x":7200,"y":0.64},{"x":7300,"y":0.66},{"x":7400,"y":0.65},{"x":7500,"y":0.67},{"x":7600,"y":0.64},{"x":7700,"y":0.68},{"x":7800,"y":0.65},{"x":7900,"y":0.7},{"x":8000,"y":0.66},{"x":8100,"y":0.64},{"x":8200,"y":0.62},{"x":8300,"y":0.6},{"x":8400,"y":0.63},{"x":8500,"y":0.65},{"x":8600,"y":0.62},{"x":8700,"y":0.67},{"x":8800,"y":0.64},{"x":8900,"y":0.68},{"x":9000,"y":0.63},{"x":9100,"y":0.7},{"x":9200,"y":0.65},{"x":9300,"y":0.62},{"x":9400,"y":0.66},{"x":9500,"y":0.64},{"x":9600,"y":0.68},{"x":9700,"y":0.63},{"x":9800,"y":0.66},{"x":9900,"y":0.69},{"x":10000,"y":0.65}],
    "resuneta_val": [{"x":0,"y":2},{"x":20,"y":1.4},{"x":40,"y":1.25},{"x":80,"y":1.28},{"x":130,"y":1.2},{"x":200,"y":1.22},{"x":260,"y":1.15},{"x":320,"y":1.17},{"x":380,"y":1.1},{"x":450,"y":1.12},{"x":510,"y":1.05},{"x":600,"y":1.07},{"x":700,"y":1.03},{"x":800,"y":1.06},{"x":830,"y":1.07},{"x":900,"y":1},{"x":960,"y":1.04},{"x":1000,"y":0.98},{"x":1100,"y":0.95},{"x":1200,"y":1},{"x":1300,"y":0.94},{"x":1400,"y":0.96},{"x":1500,"y":0.93},{"x":1600,"y":0.97},{"x":1700,"y":0.9},{"x":1800,"y":0.93},{"x":1900,"y":0.89},{"x":2000,"y":0.92},{"x":2100,"y":0.9},{"x":2200,"y":0.94},{"x":2300,"y":0.88},{"x":2400,"y":0.92},{"x":2500,"y":1.05},{"x":2600,"y":0.93},{"x":2700,"y":0.88},{"x":2800,"y":0.9},{"x":2900,"y":0.87},{"x":3000,"y":0.85},{"x":3100,"y":0.9},{"x":3200,"y":1},{"x":3300,"y":0.9},{"x":3400,"y":0.88},{"x":3500,"y":0.9},{"x":3600,"y":0.86},{"x":3700,"y":0.85},{"x":3800,"y":0.87},{"x":3900,"y":0.95},{"x":4000,"y":0.9},{"x":4100,"y":0.86},{"x":4200,"y":0.89},{"x":4300,"y":0.86},{"x":4400,"y":0.88},{"x":4500,"y":0.9},{"x":4600,"y":0.87},{"x":4700,"y":1.02},{"x":4800,"y":0.82},{"x":4900,"y":0.88},{"x":5000,"y":0.85},{"x":5100,"y":0.86},{"x":5200,"y":0.83},{"x":5300,"y":0.85},{"x":5400,"y":0.82},{"x":5500,"y":0.87},{"x":5600,"y":0.84},{"x":5700,"y":0.85},{"x":5800,"y":0.88},{"x":5900,"y":0.82},{"x":6000,"y":0.86},{"x":6100,"y":0.87},{"x":6200,"y":0.83},{"x":6300,"y":0.85},{"x":6400,"y":0.86},{"x":6500,"y":0.82},{"x":6600,"y":0.85},{"x":6700,"y":0.87},{"x":6800,"y":0.84},{"x":6900,"y":0.88},{"x":7000,"y":0.85},{"x":7100,"y":0.88},{"x":7200,"y":0.86},{"x":7300,"y":0.88},{"x":7400,"y":0.84},{"x":7500,"y":0.82},{"x":7600,"y":0.86},{"x":7700,"y":0.79},{"x":7800,"y":0.85},{"x":7900,"y":0.84},{"x":8000,"y":0.87},{"x":8100,"y":0.82},{"x":8200,"y":0.85},{"x":8300,"y":0.81},{"x":8400,"y":0.84},{"x":8500,"y":0.86},{"x":8600,"y":0.82},{"x":8700,"y":0.8},{"x":8800,"y":0.78},{"x":8950,"y":0.97},{"x":9050,"y":0.85},{"x":9150,"y":0.8},{"x":9250,"y":0.86},{"x":9350,"y":0.75},{"x":9450,"y":0.95},{"x":9550,"y":0.72},{"x":9650,"y":0.82},{"x":9750,"y":0.88},{"x":9850,"y":0.78},{"x":9950,"y":0.8},{"x":10000,"y":0.83}],
    "rmsunet_val": [{"x":0,"y":1.45},{"x":20,"y":1},{"x":40,"y":0.82},{"x":80,"y":0.78},{"x":130,"y":0.77},{"x":200,"y":0.74},{"x":255,"y":0.76},{"x":320,"y":0.73},{"x":385,"y":0.79},{"x":450,"y":0.72},{"x":520,"y":0.75},{"x":575,"y":0.7},{"x":650,"y":0.74},{"x":720,"y":0.71},{"x":770,"y":0.82},{"x":850,"y":0.7},{"x":900,"y":0.68},{"x":1000,"y":0.73},{"x":1100,"y":0.68},{"x":1200,"y":0.71},{"x":1300,"y":0.66},{"x":1400,"y":0.7},{"x":1500,"y":0.67},{"x":1600,"y":0.69},{"x":1700,"y":0.66},{"x":1800,"y":0.7},{"x":1900,"y":0.68},{"x":2000,"y":0.66},{"x":2100,"y":0.68},{"x":2200,"y":0.65},{"x":2300,"y":0.67},{"x":2400,"y":0.64},{"x":2500,"y":0.66},{"x":2600,"y":0.68},{"x":2700,"y":0.73},{"x":2800,"y":0.66},{"x":2900,"y":0.64},{"x":3000,"y":0.67},{"x":3100,"y":0.64},{"x":3200,"y":0.66},{"x":3300,"y":0.63},{"x":3400,"y":0.65},{"x":3500,"y":0.62},{"x":3600,"y":0.64},{"x":3700,"y":0.65},{"x":3800,"y":0.63},{"x":3900,"y":0.66},{"x":4000,"y":0.64},{"x":4100,"y":0.67},{"x":4200,"y":0.64},{"x":4300,"y":0.72},{"x":4400,"y":0.65},{"x":4500,"y":0.68},{"x":4600,"y":0.64},{"x":4700,"y":0.67},{"x":4800,"y":0.66},{"x":4900,"y":0.69},{"x":5000,"y":0.72},{"x":5100,"y":0.65},{"x":5200,"y":0.68},{"x":5300,"y":0.64},{"x":5400,"y":0.67},{"x":5500,"y":0.73},{"x":5600,"y":0.67},{"x":5700,"y":0.65},{"x":5800,"y":0.67},{"x":5900,"y":0.64},{"x":6000,"y":0.66},{"x":6100,"y":0.63},{"x":6200,"y":0.68},{"x":6300,"y":0.6},{"x":6400,"y":0.67},{"x":6500,"y":0.7},{"x":6600,"y":0.65},{"x":6700,"y":0.68},{"x":6800,"y":0.64},{"x":6900,"y":0.66},{"x":7000,"y":0.63},{"x":7100,"y":0.67},{"x":7200,"y":0.65},{"x":7300,"y":0.7},{"x":7400,"y":0.78},{"x":7500,"y":0.66},{"x":7600,"y":0.69},{"x":7700,"y":0.65},{"x":7800,"y":0.67},{"x":7900,"y":0.64},{"x":8000,"y":0.66},{"x":8100,"y":0.64},{"x":8200,"y":0.63},{"x":8300,"y":0.66},{"x":8400,"y":0.64},{"x":8500,"y":0.67},{"x":8600,"y":0.65},{"x":8700,"y":0.63},{"x":8800,"y":0.66},{"x":8900,"y":0.64},{"x":9000,"y":0.67},{"x":9100,"y":0.73},{"x":9200,"y":0.65},{"x":9300,"y":0.67},{"x":9400,"y":0.64},{"x":9500,"y":0.66},{"x":9600,"y":0.63},{"x":9700,"y":0.66},{"x":9800,"y":0.64},{"x":9900,"y":0.69},{"x":10000,"y":0.71}],
    "drdunet_val": [{"x":0,"y":2},{"x":20,"y":1.3},{"x":40,"y":1},{"x":100,"y":0.95},{"x":150,"y":0.98},{"x":200,"y":0.9},{"x":250,"y":0.93},{"x":300,"y":1.12},{"x":350,"y":0.88},{"x":400,"y":0.85},{"x":450,"y":0.9},{"x":500,"y":0.88},{"x":600,"y":0.83},{"x":700,"y":0.8},{"x":800,"y":0.86},{"x":900,"y":0.8},{"x":1000,"y":0.78},{"x":1100,"y":0.82},{"x":1200,"y":0.8},{"x":1300,"y":0.76},{"x":1400,"y":0.8},{"x":1500,"y":0.75},{"x":1600,"y":0.78},{"x":1700,"y":0.74},{"x":1800,"y":0.77},{"x":1900,"y":0.73},{"x":2000,"y":0.78},{"x":2100,"y":0.74},{"x":2200,"y":0.76},{"x":2300,"y":0.72},{"x":2400,"y":0.75},{"x":2500,"y":0.71},{"x":2600,"y":0.74},{"x":2700,"y":0.72},{"x":2800,"y":0.76},{"x":2900,"y":0.73},{"x":3000,"y":0.8},{"x":3100,"y":0.7},{"x":3200,"y":0.73},{"x":3300,"y":0.69},{"x":3400,"y":0.72},{"x":3500,"y":0.7},{"x":3600,"y":0.74},{"x":3700,"y":0.68},{"x":3800,"y":0.72},{"x":3900,"y":0.7},{"x":4000,"y":0.73},{"x":4100,"y":0.69},{"x":4200,"y":0.71},{"x":4300,"y":0.68},{"x":4400,"y":0.72},{"x":4500,"y":0.7},{"x":4600,"y":0.74},{"x":4700,"y":0.69},{"x":4800,"y":0.72},{"x":4900,"y":0.68},{"x":5000,"y":0.71},{"x":5100,"y":0.7},{"x":5200,"y":0.74},{"x":5300,"y":0.68},{"x":5400,"y":0.72},{"x":5500,"y":0.69},{"x":5600,"y":0.73},{"x":5700,"y":0.68},{"x":5800,"y":0.7},{"x":5900,"y":0.67},{"x":6000,"y":0.72},{"x":6100,"y":0.69},{"x":6200,"y":0.72},{"x":6300,"y":0.68},{"x":6400,"y":0.7},{"x":6500,"y":0.67},{"x":6600,"y":0.71},{"x":6700,"y":0.68},{"x":6800,"y":0.72},{"x":6900,"y":0.69},{"x":7000,"y":0.71},{"x":7100,"y":0.68},{"x":7200,"y":0.72},{"x":7300,"y":0.7},{"x":7400,"y":0.8},{"x":7500,"y":0.7},{"x":7600,"y":0.72},{"x":7700,"y":0.68},{"x":7800,"y":0.71},{"x":7900,"y":0.69},{"x":8000,"y":0.72},{"x":8100,"y":0.7},{"x":8200,"y":0.73},{"x":8300,"y":0.69},{"x":8400,"y":0.71},{"x":8500,"y":0.68},{"x":8600,"y":0.72},{"x":8700,"y":0.7},{"x":8800,"y":0.73},{"x":8900,"y":0.71},{"x":9000,"y":0.74},{"x":9100,"y":0.72},{"x":9200,"y":0.75},{"x":9300,"y":0.71},{"x":9400,"y":0.74},{"x":9500,"y":0.78},{"x":9600,"y":0.7},{"x":9700,"y":0.66},{"x":9800,"y":0.65},{"x":9900,"y":0.68},{"x":10000,"y":0.7}]
  },
  "concat": [
    {
      "width": 260, "height": 181,
      "title": {"text": "(a)", "subtitle": "3"},
      "encoding": {
        "x": {"field": "x", "type": "quantitative", "scale": {"domain": [0, 10000], "nice": false}, "axis": {"values": [0, 5000, 10000], "format": "d", "labelFlush": false, "title": "Training\u00a0loss\u00a0for\u00a0UNet-", "titleX": 28.2}},
        "y": {"field": "y", "type": "quantitative", "scale": {"domain": [0, 2], "nice": false}, "axis": {"values": [0, 0.25, 0.5, 0.75, 1, 1.5, 2], "format": "~g", "title": "Training:\u00a0 UNet-3"}}
      },
      "layer": [
        {"data": {"name": "unet3_train_raw"}, "mark": {"type": "line", "color": "#0000ff", "opacity": 0.32, "strokeWidth": 1.6, "clip": true}},
        {"data": {"name": "unet3_train_avg"}, "mark": {"type": "line", "color": "#000000", "strokeWidth": 3, "clip": true}}
      ]
    },
    {
      "width": 260, "height": 181,
      "title": {"text": "(b)", "subtitle": "ResUNet-BN"},
      "encoding": {
        "x": {"field": "x", "type": "quantitative", "scale": {"domain": [0, 10000], "nice": false}, "axis": {"values": [0, 5000, 10000], "format": "d", "labelFlush": false, "title": "Training\u00a0\u00a0\u00a0\u00a0loss\u00a0\u00a0\u00a0\u00a0\u00a0for", "titleX": 58.4}},
        "y": {"field": "y", "type": "quantitative", "scale": {"domain": [0, 2], "nice": false}, "axis": {"values": [0, 0.25, 0.5, 0.75, 1, 1.5, 2], "format": "~g", "title": "Training: ResUNet-BN"}}
      },
      "layer": [
        {"data": {"name": "resunetbn_train_raw"}, "mark": {"type": "line", "color": "#0000ff", "opacity": 0.32, "strokeWidth": 1.6, "clip": true}},
        {"data": {"name": "resunetbn_train_avg"}, "mark": {"type": "line", "color": "#000000", "strokeWidth": 3, "clip": true}}
      ]
    },
    {
      "width": 260, "height": 181,
      "title": {"text": "(c)", "subtitle": "ResUNet"},
      "encoding": {
        "x": {"field": "x", "type": "quantitative", "scale": {"domain": [0, 10000], "nice": false}, "axis": {"values": [0, 5000, 10000], "format": "d", "labelFlush": false, "title": "Training\u00a0\u00a0\u00a0loss\u00a0\u00a0\u00a0for\u00a0\u00a0\u00a0P-", "titleX": 34.3}},
        "y": {"field": "y", "type": "quantitative", "scale": {"domain": [0, 2], "nice": false}, "axis": {"values": [0, 0.25, 0.5, 0.75, 1, 1.5, 2], "format": "~g", "title": "Training: P-ResUNet"}}
      },
      "layer": [
        {"data": {"name": "presunet_train_raw"}, "mark": {"type": "line", "color": "#0000ff", "opacity": 0.32, "strokeWidth": 1.6, "clip": true}},
        {"data": {"name": "presunet_train_avg"}, "mark": {"type": "line", "color": "#000000", "strokeWidth": 3, "clip": true}}
      ]
    },
    {
      "width": 260, "height": 181,
      "title": {"text": "(d)", "subtitle": "UNet-3"},
      "encoding": {
        "x": {"field": "x", "type": "quantitative", "scale": {"domain": [0, 10000], "nice": false}, "axis": {"values": [0, 5000, 10000], "format": "d", "labelFlush": false, "title": "Validation\u00a0\u00a0\u00a0loss\u00a0\u00a0\u00a0\u00a0for", "titleX": 52.4}},
        "y": {"field": "y", "type": "quantitative", "scale": {"domain": [0, 2], "nice": false}, "axis": {"values": [0, 0.25, 0.5, 0.75, 1, 1.5, 2], "format": "~g", "title": "Validation:\u00a0 UNet-3"}}
      },
      "layer": [
        {"data": {"name": "unet3_val"}, "mark": {"type": "line", "color": "#0000ff", "strokeWidth": 2.6, "clip": true}}
      ]
    },
    {
      "width": 260, "height": 181,
      "title": {"text": "(e)", "subtitle": "ResUNet-BN"},
      "encoding": {
        "x": {"field": "x", "type": "quantitative", "scale": {"domain": [0, 10000], "nice": false}, "axis": {"values": [0, 5000, 10000], "format": "d", "labelFlush": false, "title": "Validation\u00a0\u00a0\u00a0loss\u00a0\u00a0\u00a0\u00a0for", "titleX": 52.4}},
        "y": {"field": "y", "type": "quantitative", "scale": {"domain": [0, 2], "nice": false}, "axis": {"values": [0, 0.25, 0.5, 0.75, 1, 1.5, 2], "format": "~g", "title": "Validation: ResUNet-BN"}}
      },
      "layer": [
        {"data": {"name": "resunetbn_val"}, "mark": {"type": "line", "color": "#0000ff", "strokeWidth": 2.6, "clip": true}}
      ]
    },
    {
      "width": 260, "height": 181,
      "title": {"text": "(f)", "subtitle": "ResUNet"},
      "encoding": {
        "x": {"field": "x", "type": "quantitative", "scale": {"domain": [0, 10000], "nice": false}, "axis": {"values": [0, 5000, 10000], "format": "d", "labelFlush": false, "title": "Validation\u00a0\u00a0loss\u00a0\u00a0for\u00a0\u00a0P-", "titleX": 34.3}},
        "y": {"field": "y", "type": "quantitative", "scale": {"domain": [0, 2], "nice": false}, "axis": {"values": [0, 0.25, 0.5, 0.75, 1, 1.5, 2], "format": "~g", "title": "Validation: P-ResUNet"}}
      },
      "layer": [
        {"data": {"name": "presunet_val"}, "mark": {"type": "line", "color": "#0000ff", "strokeWidth": 2.6, "clip": true}}
      ]
    },
    {
      "width": 260, "height": 181,
      "title": {"text": "(g)", "subtitle": "ResUNet-a"},
      "encoding": {
        "x": {"field": "x", "type": "quantitative", "scale": {"domain": [0, 10000], "nice": false}, "axis": {"values": [0, 5000, 10000], "format": "d", "labelFlush": false, "title": "Training\u00a0\u00a0\u00a0\u00a0loss\u00a0\u00a0\u00a0\u00a0\u00a0for", "titleX": 58.4}},
        "y": {"field": "y", "type": "quantitative", "scale": {"domain": [0, 2], "nice": false}, "axis": {"values": [0, 0.25, 0.5, 0.75, 1, 1.5, 2], "format": "~g", "title": "Training:\u00a0 UNet-3"}}
      },
      "layer": [
        {"data": {"name": "unet3_train_raw"}, "mark": {"type": "line", "color": "#0000ff", "opacity": 0.32, "strokeWidth": 1.6, "clip": true}},
        {"data": {"name": "unet3_train_avg"}, "mark": {"type": "line", "color": "#000000", "strokeWidth": 3, "clip": true}}
      ]
    },
    {
      "width": 260, "height": 181,
      "title": {"text": "(h)", "subtitle": "UNet"},
      "encoding": {
        "x": {"field": "x", "type": "quantitative", "scale": {"domain": [0, 10000], "nice": false}, "axis": {"values": [0, 5000, 10000], "format": "d", "labelFlush": false, "title": "Training\u00a0loss\u00a0for\u00a0RMS-", "titleX": 34.3}},
        "y": {"field": "y", "type": "quantitative", "scale": {"domain": [0, 2], "nice": false}, "axis": {"values": [0, 0.25, 0.5, 0.75, 1, 1.5, 2], "format": "~g", "title": "Training: RMS-UNet"}}
      },
      "layer": [
        {"data": {"name": "rmsunet_train_raw"}, "mark": {"type": "line", "color": "#0000ff", "opacity": 0.32, "strokeWidth": 1.6, "clip": true}},
        {"data": {"name": "rmsunet_train_avg"}, "mark": {"type": "line", "color": "#000000", "strokeWidth": 3, "clip": true}}
      ]
    },
    {
      "width": 260, "height": 181,
      "title": {"text": "(i)", "subtitle": "UNet"},
      "encoding": {
        "x": {"field": "x", "type": "quantitative", "scale": {"domain": [0, 10000], "nice": false}, "axis": {"values": [0, 5000, 10000], "format": "d", "labelFlush": false, "title": "Training\u00a0loss\u00a0for\u00a0DRD-", "titleX": 34.3}},
        "y": {"field": "y", "type": "quantitative", "scale": {"domain": [0, 2], "nice": false}, "axis": {"values": [0, 0.25, 0.5, 0.75, 1, 1.5, 2], "format": "~g", "title": "Training: DRD-UNet"}}
      },
      "layer": [
        {"data": {"name": "drdunet_train_raw"}, "mark": {"type": "line", "color": "#0000ff", "opacity": 0.32, "strokeWidth": 1.6, "clip": true}},
        {"data": {"name": "drdunet_train_avg"}, "mark": {"type": "line", "color": "#000000", "strokeWidth": 3, "clip": true}}
      ]
    },
    {
      "width": 260, "height": 181,
      "title": {"text": "(j)", "subtitle": "ResUNet-a"},
      "encoding": {
        "x": {"field": "x", "type": "quantitative", "scale": {"domain": [0, 10000], "nice": false}, "axis": {"values": [0, 5000, 10000], "format": "d", "labelFlush": false, "title": "Validation\u00a0\u00a0\u00a0\u00a0loss\u00a0\u00a0\u00a0\u00a0for", "titleX": 46.4}},
        "y": {"field": "y", "type": "quantitative", "scale": {"domain": [0, 2], "nice": false}, "axis": {"values": [0, 0.25, 0.5, 0.75, 1, 1.5, 2], "format": "~g", "title": "Validation: ResUNet-a"}}
      },
      "layer": [
        {"data": {"name": "resuneta_val"}, "mark": {"type": "line", "color": "#0000ff", "strokeWidth": 2.6, "clip": true}}
      ]
    },
    {
      "width": 260, "height": 181,
      "title": {"text": "(k)", "subtitle": "RMS-UNet"},
      "encoding": {
        "x": {"field": "x", "type": "quantitative", "scale": {"domain": [0, 10000], "nice": false}, "axis": {"values": [0, 5000, 10000], "format": "d", "labelFlush": false, "title": "Validation\u00a0\u00a0\u00a0\u00a0loss\u00a0\u00a0\u00a0for", "titleX": 52.4}},
        "y": {"field": "y", "type": "quantitative", "scale": {"domain": [0, 2], "nice": false}, "axis": {"values": [0, 0.25, 0.5, 0.75, 1, 1.5, 2], "format": "~g", "title": "Validation: RMS-UNet"}}
      },
      "layer": [
        {"data": {"name": "rmsunet_val"}, "mark": {"type": "line", "color": "#0000ff", "strokeWidth": 2.6, "clip": true}}
      ]
    },
    {
      "width": 260, "height": 181,
      "title": {"text": "(l)", "subtitle": "DRD-UNet"},
      "encoding": {
        "x": {"field": "x", "type": "quantitative", "scale": {"domain": [0, 10000], "nice": false}, "axis": {"values": [0, 5000, 10000], "format": "d", "labelFlush": false, "title": "Validation\u00a0\u00a0\u00a0\u00a0loss\u00a0\u00a0\u00a0\u00a0for", "titleX": 46.4}},
        "y": {"field": "y", "type": "quantitative", "scale": {"domain": [0, 2], "nice": false}, "axis": {"values": [0, 0.25, 0.5, 0.75, 1, 1.5, 2], "format": "~g", "title": "Validation: DRD-UNet"}}
      },
      "layer": [
        {"data": {"name": "drdunet_val"}, "mark": {"type": "line", "color": "#0000ff", "strokeWidth": 2.6, "clip": true}}
      ]
    }
  ]
}
